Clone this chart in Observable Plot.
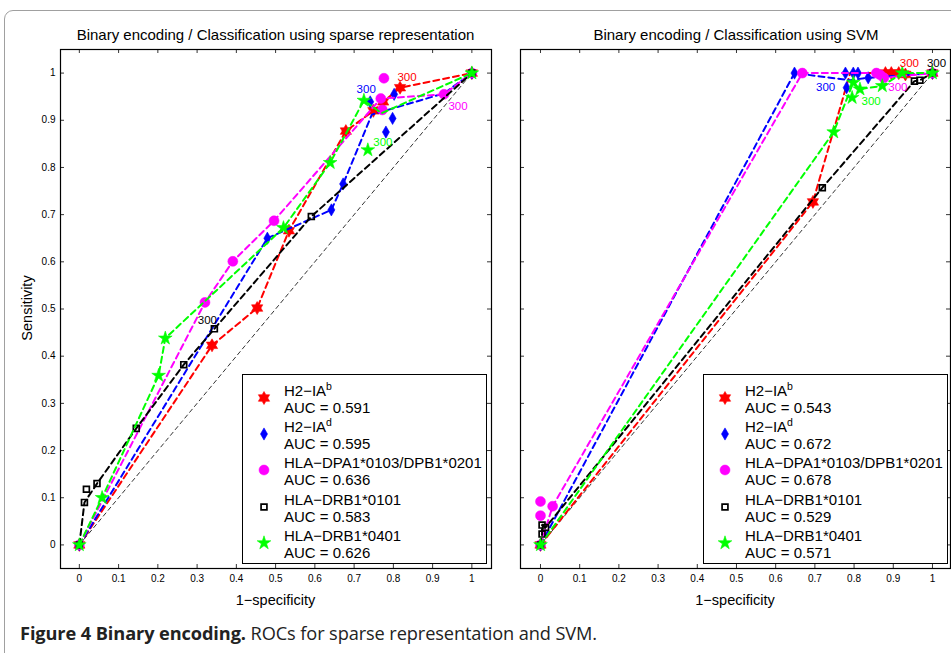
<!DOCTYPE html>
<html><head><meta charset="utf-8">
<script src="https://cdn.jsdelivr.net/npm/d3@7"></script>
<script src="https://cdn.jsdelivr.net/npm/@observablehq/plot@0.6"></script>
<style>
body{margin:0;background:#fff;}
#page{position:relative;width:951px;height:653px;overflow:hidden;font-family:"Liberation Sans",Arial,sans-serif;color:#000;}
#border{position:absolute;left:4px;top:10px;width:1000px;height:700px;border:1px solid #a0a0a0;border-radius:9px;}
.abs{position:absolute;white-space:nowrap;}
.title{font-size:15px;transform:translate(-50%,-50%);}
.xlab{font-size:14.5px;transform:translate(-50%,-50%);}
.ylab{font-size:14.5px;transform:translate(-50%,-50%) rotate(-90deg);}
.legend{position:absolute;top:374px;width:243px;height:188px;border:1px solid #000;background:#fff;}
.lt{position:absolute;left:41px;font-size:15px;line-height:18px;white-space:nowrap;}
.sup{font-size:10.5px;position:relative;top:-6px;}
#caption{position:absolute;left:20px;top:621px;font-family:"Open Sans",sans-serif;font-size:18.2px;white-space:nowrap;color:#222;letter-spacing:-0.1px;}
#caption b{font-weight:700;}
.panel{position:absolute;top:0;}
</style></head>
<body><div id="page"><div id="border"></div></div>
<script>
// ---------- data ----------
const xTicks = [0,0.1,0.2,0.3,0.4,0.5,0.6,0.7,0.8,0.9,1];
const tickLabels = ["0","0.1","0.2","0.3","0.4","0.5","0.6","0.7","0.8","0.9","1"];
const seriesNames = ["H2\u2212IA","H2\u2212IA","HLA\u2212DPA1*0103/DPB1*0201","HLA\u2212DRB1*0101","HLA\u2212DRB1*0401"];
const seriesSup = ["b","d","","",""];
const aucSparse = ["0.591","0.595","0.636","0.583","0.626"];
const aucSVM = ["0.543","0.672","0.678","0.529","0.571"];
const diagonal = [[0,0],[1,1]];

// Sparse representation panel
const spH2IAbLine = [[0,0],[0.338,0.423],[0.453,0.502],[0.534,0.666],[0.679,0.877],[0.749,0.920],[0.774,0.939],[0.817,0.969],[1,1]];
const spH2IAbPts  = [[0,0],[0.338,0.423],[0.453,0.502],[0.534,0.666],[0.679,0.877],[0.749,0.920],[0.774,0.939],[0.817,0.969],[1,1]];
const spH2IAdLine = [[0,0],[0.479,0.650],[0.642,0.710],[0.672,0.765],[0.745,0.912],[0.929,0.957],[1,1]];
const spH2IAdPts  = [[0,0],[0.479,0.650],[0.642,0.710],[0.672,0.765],[0.741,0.939],[0.802,0.955],[0.798,0.904],[0.781,0.875],[1,1]];
const spDPLine = [[0,0],[0.320,0.514],[0.391,0.601],[0.496,0.687],[0.768,0.946],[0.929,0.955],[1,1]];
const spDPPts  = [[0,0],[0.320,0.514],[0.391,0.601],[0.496,0.687],[0.768,0.946],[0.929,0.955],[0.776,0.989],[0.772,0.922],[1,1]];
const spDR0101Line = [[0,0],[0.013,0.090],[0.045,0.130],[0.145,0.247],[0.266,0.382],[0.344,0.458],[0.591,0.696],[1,1]];
const spDR0101Pts  = [[0,0],[0.013,0.090],[0.018,0.118],[0.045,0.130],[0.145,0.247],[0.266,0.382],[0.344,0.458],[0.591,0.696],[1,1]];
const spDR0401Line = [[0,0],[0.058,0.100],[0.202,0.359],[0.219,0.438],[0.520,0.672],[0.639,0.810],[0.725,0.942],[0.770,0.915],[1,1]];
const spDR0401Pts  = [[0,0],[0.058,0.100],[0.202,0.359],[0.219,0.438],[0.520,0.672],[0.639,0.810],[0.725,0.942],[0.735,0.837],[1,1]];
const sp300 = [[0.817,0.969],[0.741,0.939],[0.929,0.955],[0.344,0.458],[0.735,0.837]];

// SVM panel
const svH2IAbLine = [[0,0],[0.695,0.727],[0.790,1.0],[0.880,1.0],[0.895,1.0],[0.914,1.0],[0.931,0.997],[1,1]];
const svH2IAbPts  = [[0,0],[0.695,0.727],[0.880,1.0],[0.895,1.0],[0.914,1.0],[0.931,0.997],[1,1]];
const svH2IAdLine = [[0,0],[0.648,1.0],[0.790,0.985],[0.836,0.990],[1,1]];
const svH2IAdPts  = [[0,0],[0.648,1.0],[0.778,1.0],[0.798,1.0],[0.810,1.0],[0.781,0.969],[0.836,0.990],[1,1]];
const svDPLine = [[0,0],[0.031,0.082],[0.668,1.0],[0.857,1.0],[0.876,0.990],[1,1]];
const svDPPts  = [[0,0],[0,0.062],[0,0.092],[0.031,0.082],[0.668,1.0],[0.857,1.0],[0.867,0.996],[0.876,0.990],[1,1]];
const svDR0101Line = [[0,0],[0.004,0.023],[0.004,0.042],[0.013,0.037],[0.719,0.757],[0.954,0.983],[0.968,0.985],[1,1]];
const svDR0101Pts  = [[0,0],[0.004,0.023],[0.004,0.042],[0.013,0.037],[0.719,0.757],[0.954,0.983],[0.968,0.985],[1,1]];
const svDR0401Line = [[0,0],[0.748,0.875],[0.798,0.980],[0.815,0.966],[0.872,0.973],[0.923,1.0],[1,1]];
const svDR0401Pts  = [[0,0],[0.748,0.875],[0.795,0.948],[0.798,0.980],[0.815,0.966],[0.872,0.973],[0.923,1.0],[1,1]];
const sv300 = [[0.931,0.997],[0.781,0.969],[0.876,0.990],[1,1],[0.795,0.948]];

// ---------- styles ----------
const colors = ["#ff0000","#0000ff","#ff00ff","#000000","#00ff00"];
const hexagram = {draw(ctx, size){
  const R = Math.sqrt(size/Math.PI)*1.25, r = R/Math.sqrt(3);
  for (let i=0;i<12;i++){const a=Math.PI/6*i-Math.PI/2, rr=i%2?r:R, x=rr*Math.cos(a), y=rr*Math.sin(a); i?ctx.lineTo(x,y):ctx.moveTo(x,y);}
  ctx.closePath();}};
const symbols = [hexagram, d3.symbolDiamond, d3.symbolCircle, d3.symbolSquare, d3.symbolStar];
const radii = [5.2, 3.7, 5.0, 3.3, 4.3];
const fills = [colors[0], colors[1], colors[2], "none", colors[4]];
const strokes = [colors[0], colors[1], colors[2], "#000", colors[4]];
const strokeW = [0.6, 0.6, 0.5, 1.7, 0.6];

const H = 620, MT = 49, MB = 52;
function panel({series, hundred, offsets, width, ml, mr, domainX, showY, left}) {
  const fw = width-ml-mr, fh = H-MT-MB;
  const X = d=>d[0], Y = d=>d[1];
  const fmt = d => tickLabels[xTicks.findIndex(t=>Math.abs(t-d)<1e-9)];
  const marks = [
    Plot.line(diagonal, {x:X, y:Y, stroke:"#000", strokeWidth:0.8, strokeDasharray:"4,3.5"})
  ];
  series.forEach((s,i)=>{
    marks.push(Plot.line(s[0], {x:X, y:Y, stroke:colors[i], strokeWidth:2, strokeDasharray:"6,4"}));
    marks.push(Plot.dot(s[1], {x:X, y:Y, symbol:symbols[i], r:radii[i], fill:fills[i], stroke:strokes[i], strokeWidth:strokeW[i]}));
  });
  hundred.forEach((p,i)=>{
    marks.push(Plot.text([p], {x:X, y:Y, text:()=>"300", dx:offsets[i][0], dy:offsets[i][1], fill:colors[i], fontSize:11.5}));
  });
  marks.push(Plot.frame({stroke:"#000", strokeWidth:1.2}));
  marks.push(Plot.tickX(xTicks, {x:d=>d, insetTop:fh-4, stroke:"#000", strokeWidth:0.8}));
  marks.push(Plot.tickX(xTicks, {x:d=>d, insetBottom:fh-4, stroke:"#000", strokeWidth:0.8}));
  marks.push(Plot.tickY(xTicks, {y:d=>d, insetRight:fw-4, stroke:"#000", strokeWidth:0.8}));
  marks.push(Plot.tickY(xTicks, {y:d=>d, insetLeft:fw-4, stroke:"#000", strokeWidth:0.8}));
  marks.push(Plot.axisX(xTicks, {tickSize:0, tickPadding:6, tickFormat:fmt, label:null, fontSize:10}));
  if (showY) marks.push(Plot.axisY(xTicks, {tickSize:0, tickPadding:5, tickFormat:fmt, label:null, fontSize:10}));
  const svg = Plot.plot({
    width, height:H, marginLeft:ml, marginRight:mr, marginTop:MT, marginBottom:MB,
    x:{domain:domainX}, y:{domain:[-0.05,1.05], axis: showY ? undefined : null},
    style:{fontFamily:"Liberation Sans, Arial, sans-serif", background:"transparent", overflow:"visible", color:"#000"},
    marks
  });
  svg.classList.add("panel");
  svg.style.left = left+"px";
  document.getElementById("page").appendChild(svg);
}

panel({
  series:[[spH2IAbLine,spH2IAbPts],[spH2IAdLine,spH2IAdPts],[spDPLine,spDPPts],[spDR0101Line,spDR0101Pts],[spDR0401Line,spDR0401Pts]],
  hundred: sp300, offsets:[[7,-10],[-4,-13],[14,12],[-7,-9],[15,-8]],
  width:505, ml:60, mr:14, domainX:[-0.048,1.05], showY:true, left:0
});
panel({
  series:[[svH2IAbLine,svH2IAbPts],[svH2IAdLine,svH2IAdPts],[svDPLine,svDPPts],[svDR0101Line,svDR0101Pts],[svDR0401Line,svDR0401Pts]],
  hundred: sv300, offsets:[[4,-11],[-21,0],[14,10],[4,-10],[19,4]],
  width:446, ml:15, mr:1, domainX:[-0.051,1.046], showY:false, left:505
});

const page = document.getElementById("page");
function addText(cls, txt, x, y){const d=document.createElement("div"); d.className="abs "+cls; d.textContent=txt; d.style.left=x+"px"; d.style.top=y+"px"; page.appendChild(d);}
addText("title","Binary encoding / Classification using sparse representation",275.5,34);
addText("title","Binary encoding / Classification using SVM",736,34);
addText("xlab","1\u2212specificity",275.5,600);
addText("xlab","1\u2212specificity",735,600);
addText("ylab","Sensitivity",27,308);

function legend(left, aucs){
  const box=document.createElement("div"); box.className="legend"; box.style.left=left+"px";
  seriesNames.forEach((n,k)=>{
    const top = 36.2*k;
    const svg = d3.create("svg").attr("width",24).attr("height",24)
      .style("position","absolute").style("left","9px").style("top",(top+23-12)+"px");
    svg.append("path").attr("transform","translate(12,12)")
      .attr("d", d3.symbol(symbols[k], Math.PI*radii[k]*radii[k])())
      .attr("fill", fills[k]).attr("stroke", strokes[k]).attr("stroke-width", strokeW[k]);
    box.appendChild(svg.node());
    const nm=document.createElement("div"); nm.className="lt"; nm.style.top=(top+16-9)+"px";
    nm.textContent=n;
    if (seriesSup[k]) {const s=document.createElement("span"); s.className="sup"; s.textContent=seriesSup[k]; nm.appendChild(s);}
    box.appendChild(nm);
    const au=document.createElement("div"); au.className="lt"; au.style.top=(top+33-9)+"px";
    au.textContent="AUC = "+aucs[k]; box.appendChild(au);
  });
  page.appendChild(box);
}
legend(242, aucSparse);
legend(703, aucSVM);

const cap=document.createElement("div"); cap.id="caption";
cap.innerHTML="<b>Figure 4 Binary encoding.</b> ROCs for sparse representation and SVM.";
page.appendChild(cap);
</script>
</body></html>
